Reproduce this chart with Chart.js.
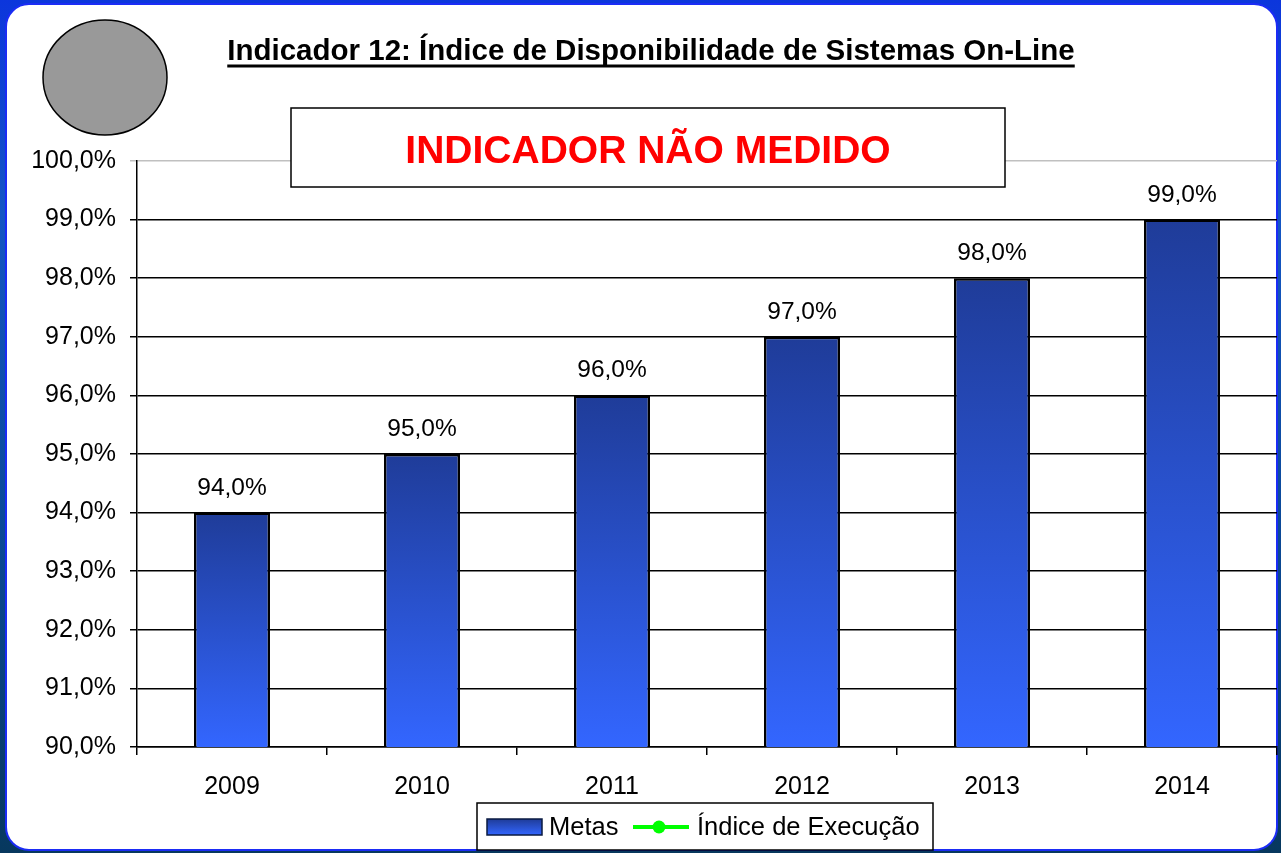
<!DOCTYPE html>
<html>
<head>
<meta charset="utf-8">
<script src="https://cdn.jsdelivr.net/npm/chart.js@4/dist/chart.umd.min.js"></script>
<style>
  html, body { margin:0; padding:0; width:1281px; height:853px; overflow:hidden; }
  body { background: linear-gradient(to bottom, #0c36dc 0%, #1456c4 25%, #0b4a9a 60%, #07385e 100%); position:relative; }
  #panel { position:absolute; left:5px; top:3px; width:1273px; height:848px; background:#fff; border:2px solid #1b2cf5; border-radius:24px; box-sizing:border-box; }
  #c { position:absolute; left:0; top:0; }
</style>
</head>
<body>
<div id="panel"></div>
<canvas id="c" width="1281" height="853"></canvas>
<script>
const chartTitle = 'Indicador 12: Índice de Disponibilidade de Sistemas On-Line';
const notice = 'INDICADOR NÃO MEDIDO';
const categories = ['2009', '2010', '2011', '2012', '2013', '2014'];
const metas = [94, 95, 96, 97, 98, 99];
const execucao = [null, null, null, null, null, null];
const seriesNames = ['Metas', 'Índice de Execução'];
const yMin = 90, yMax = 100, yStep = 1;

const fmt = v => v.toFixed(1).replace('.', ',') + '%';
const FONT = '"Liberation Sans", Arial, Helvetica, sans-serif';

function barGradient(ctx2d, top, bottom) {
  const g = ctx2d.createLinearGradient(0, top, 0, bottom);
  g.addColorStop(0, '#1f3c99');
  g.addColorStop(1, '#3366ff');
  return g;
}

const decor = {
  id: 'decor',
  afterDraw(chart) {
    const c = chart.ctx;
    c.save();
    // gray circle
    c.beginPath();
    c.ellipse(105, 77.5, 62, 57.5, 0, 0, Math.PI * 2);
    c.fillStyle = '#999999';
    c.fill();
    c.lineWidth = 1.5;
    c.strokeStyle = '#000';
    c.stroke();
    // title
    c.font = 'bold 29.5px ' + FONT;
    c.fillStyle = '#000';
    c.textAlign = 'center';
    c.textBaseline = 'alphabetic';
    const tw = c.measureText(chartTitle).width;
    const tx = 651;
    c.fillText(chartTitle, tx, 60);
    c.fillRect(tx - tw / 2, 64.5, tw, 3);
    // notice box
    c.fillStyle = '#fff';
    c.fillRect(291, 108, 714, 79);
    c.lineWidth = 1.5;
    c.strokeStyle = '#000';
    c.strokeRect(291, 108, 714, 79);
    c.font = 'bold 39px ' + FONT;
    c.fillStyle = '#ff0000';
    c.fillText(notice, 648, 163);
    // data labels
    const meta = chart.getDatasetMeta(0);
    c.font = '24.5px ' + FONT;
    c.fillStyle = '#000';
    meta.data.forEach((el, i) => {
      c.fillText(fmt(metas[i]), el.x, el.y - 18);
    });
    // legend
    c.fillStyle = '#fff';
    c.fillRect(477, 803, 456, 47);
    c.strokeStyle = '#000';
    c.lineWidth = 1.5;
    c.strokeRect(477, 803, 456, 47);
    c.fillStyle = barGradient(c, 819, 835);
    c.fillRect(487, 819, 55, 16);
    c.strokeStyle = '#0a1a40';
    c.lineWidth = 1.5;
    c.strokeRect(487, 819, 55, 16);
    c.font = '25.5px ' + FONT;
    c.fillStyle = '#000';
    c.textAlign = 'left';
    c.fillText(chart.data.datasets[0].label, 549, 835);
    c.strokeStyle = '#00ff00';
    c.lineWidth = 4;
    c.beginPath();
    c.moveTo(633, 827);
    c.lineTo(689, 827);
    c.stroke();
    c.beginPath();
    c.arc(659, 827, 6.5, 0, Math.PI * 2);
    c.fillStyle = '#00ff00';
    c.fill();
    c.fillStyle = '#000';
    c.fillText(chart.data.datasets[1].label, 697, 835);
    c.restore();
  }
};

new Chart(document.getElementById('c'), {
  type: 'bar',
  data: {
    labels: categories,
    datasets: [
      {
        label: seriesNames[0],
        data: metas,
        backgroundColor: (ctx) => {
          const chart = ctx.chart;
          if (!chart.chartArea || ctx.type !== 'data') return '#2a4fd0';
          const y = chart.scales.y;
          return barGradient(chart.ctx, y.getPixelForValue(ctx.raw), y.getPixelForValue(yMin));
        },
        borderColor: '#000',
        borderWidth: 2.5,
        borderSkipped: false,
        categoryPercentage: 1,
        barPercentage: 0.4,
        order: 2
      },
      {
        type: 'line',
        label: seriesNames[1],
        data: execucao,
        borderColor: '#00ff00',
        backgroundColor: '#00ff00',
        borderWidth: 4,
        pointRadius: 0,
        pointBorderWidth: 0,
        pointHoverRadius: 0,
        order: 1
      }
    ]
  },
  options: {
    responsive: false,
    devicePixelRatio: 1,
    animation: false,
    layout: { padding: { top: 161, left: 0, right: 4, bottom: 0 } },
    plugins: { legend: { display: false }, title: { display: false }, tooltip: { enabled: false } },
    scales: {
      x: {
        afterFit: s => { s.height = 106; s.paddingLeft = 0; s.paddingRight = 0; },
        grid: { drawOnChartArea: false, drawTicks: true, tickLength: 8, color: '#000', lineWidth: 1.5 },
        border: { display: true, color: '#000', width: 1.5 },
        ticks: { color: '#000', font: { family: FONT, size: 25 }, padding: 17, maxRotation: 0 }
      },
      y: {
        min: yMin, max: yMax,
        afterFit: s => { s.width = 137; s.paddingTop = 0; s.paddingBottom = 0; },
        grid: {
          color: ctx => (ctx.tick && ctx.tick.value === yMax) ? '#c0c0c0' : '#000',
          lineWidth: 1.5,
          tickLength: 7,
          drawTicks: true
        },
        border: { display: true, color: '#000', width: 1.5 },
        ticks: { stepSize: yStep, color: '#000', font: { family: FONT, size: 25 }, padding: 14, callback: v => fmt(v) }
      }
    }
  },
  plugins: [decor]
});
</script>
</body>
</html>
